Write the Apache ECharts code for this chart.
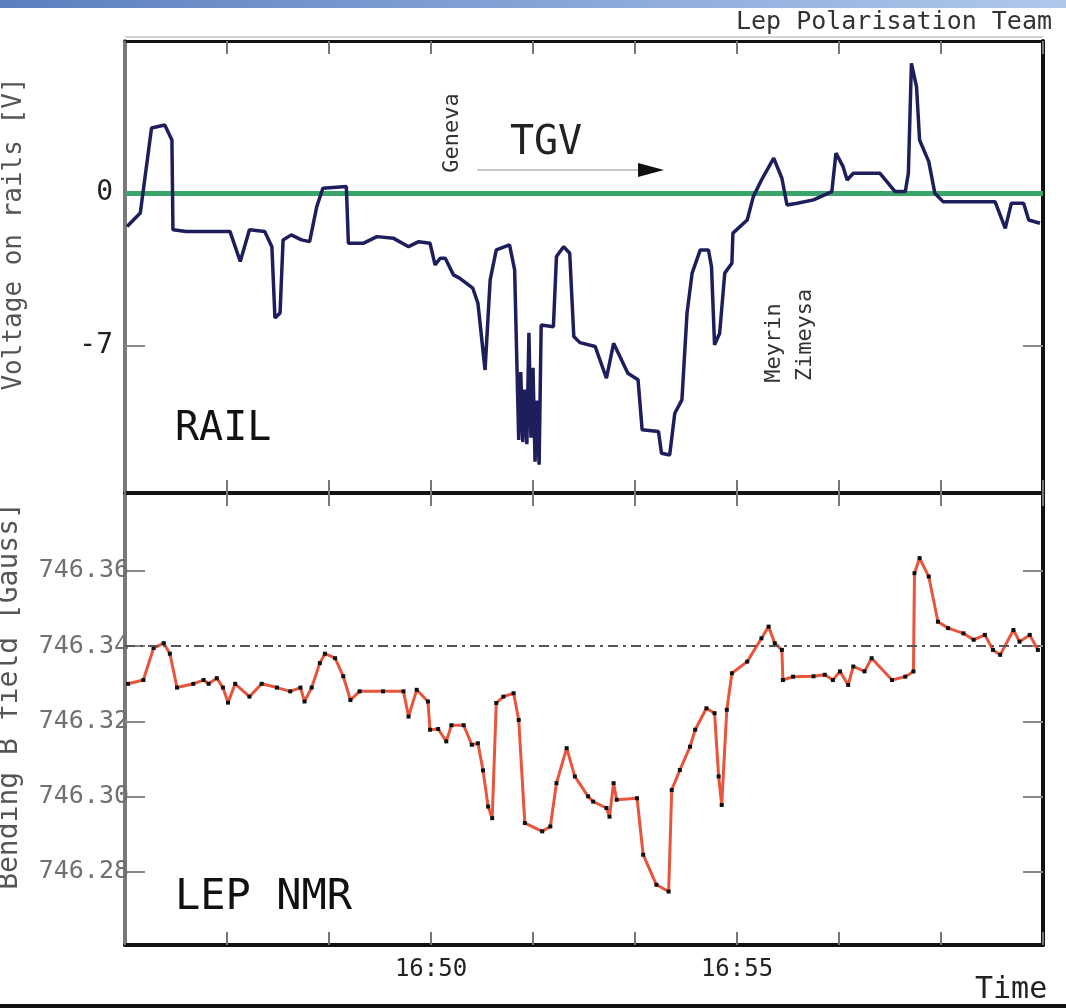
<!DOCTYPE html>
<html><head><meta charset="utf-8">
<script src="https://cdn.jsdelivr.net/npm/echarts@6/dist/echarts.min.js"></script>
<style>html,body{margin:0;padding:0;background:#fff}#c{width:1066px;height:1008px}</style>
</head><body><div id="c"></div>
<script>
// ---- DATA ----
const railTime = ['16:45:02','16:45:15','16:45:26','16:45:39','16:45:46','16:45:47','16:46:00','16:46:43','16:46:53','16:47:02',
'16:47:17','16:47:24','16:47:27','16:47:32','16:47:35','16:47:43','16:47:53','16:48:01','16:48:08','16:48:14',
'16:48:37','16:48:39','16:48:54','16:49:07','16:49:23','16:49:38','16:49:48','16:49:59','16:50:04','16:50:09',
'16:50:14','16:50:22','16:50:28','16:50:41','16:50:46','16:50:53','16:50:58','16:51:04','16:51:17','16:51:22',
'16:51:26','16:51:28','16:51:30','16:51:32','16:51:34','16:51:35','16:51:36','16:51:38','16:51:40','16:51:42',
'16:51:44','16:51:46','16:51:48','16:52:00','16:52:03','16:52:10','16:52:16','16:52:20','16:52:26','16:52:41',
'16:52:52','16:52:59','16:53:13','16:53:23','16:53:27','16:53:43','16:53:46','16:53:54','16:53:59','16:54:06',
'16:54:11','16:54:16','16:54:24','16:54:32','16:54:35','16:54:38','16:54:43','16:54:48','16:54:55','16:54:56',
'16:55:10','16:55:16','16:55:24','16:55:36','16:55:44','16:55:49','16:55:59','16:56:15','16:56:33','16:56:37',
'16:56:44','16:56:48','16:56:54','16:57:20','16:57:35','16:57:45','16:57:48','16:57:51','16:57:56','16:57:59',
'16:58:08','16:58:14','16:58:22','16:59:13','16:59:23','16:59:29','16:59:41','16:59:46','16:59:57'];
const railVolt = [-1.54,-0.92,2.97,3.11,2.42,-1.69,-1.77,-1.77,-3.14,-1.69,
-1.77,-2.46,-5.72,-5.49,-2.15,-1.92,-2.15,-2.23,-0.63,0.21,
0.29,-2.30,-2.30,-2.00,-2.07,-2.46,-2.23,-2.30,-3.29,-2.99,
-2.99,-3.75,-3.90,-4.36,-5.05,-8.10,-3.98,-2.61,-2.38,-3.52,
-11.30,-8.2,-11.4,-9.0,-11.5,-11.53,-6.40,-11.2,-8.0,-12.3,
-9.5,-12.44,-6.04,-6.12,-2.91,-2.46,-2.76,-6.57,-6.85,-7.03,
-8.48,-6.88,-8.25,-8.55,-10.84,-10.92,-11.91,-11.99,-10.08,-9.47,
-5.50,-3.67,-2.61,-2.61,-3.37,-6.95,-6.42,-3.67,-3.22,-1.84,
-1.24,-0.17,0.59,1.59,0.67,-0.55,-0.47,-0.32,0.06,1.82,
1.20,0.59,0.90,0.90,0.06,0.06,0.90,5.93,4.86,2.42,
1.43,-0.02,-0.40,-0.40,-1.62,-0.47,-0.47,-1.24,-1.39];

const nmrTime = ['16:45:03','16:45:18','16:45:28','16:45:38','16:45:44','16:45:51','16:46:07','16:46:17','16:46:22','16:46:30',
'16:46:36','16:46:41','16:46:48','16:47:02','16:47:14','16:47:29','16:47:42','16:47:52','16:47:56','16:48:03',
'16:48:11','16:48:16','16:48:26','16:48:34','16:48:41','16:48:50','16:49:13','16:49:33','16:49:38','16:49:46',
'16:49:57','16:49:59','16:50:07','16:50:15','16:50:20','16:50:32','16:50:40','16:50:46','16:50:51','16:50:56',
'16:51:00','16:51:04','16:51:11','16:51:21','16:51:26','16:51:32','16:51:49','16:51:57','16:52:03','16:52:13',
'16:52:21','16:52:34','16:52:39','16:52:52','16:52:55','16:52:59','16:53:02','16:53:22','16:53:28','16:53:41',
'16:53:53','16:53:56','16:54:04','16:54:14','16:54:19','16:54:30','16:54:38','16:54:42','16:54:45','16:54:50',
'16:54:55','16:55:10','16:55:24','16:55:31','16:55:37','16:55:44','16:55:45','16:55:55','16:56:15','16:56:26',
'16:56:34','16:56:41','16:56:49','16:56:54','16:57:05','16:57:12','16:57:32','16:57:45','16:57:53','16:57:54',
'16:57:59','16:58:08','16:58:17','16:58:27','16:58:42','16:58:52','16:59:03','16:59:11','16:59:18','16:59:31',
'16:59:37','16:59:47','16:59:55'];
const nmrField = [746.3300,746.3310,746.3395,746.3408,746.3380,746.3290,746.3300,746.3310,746.3300,746.3315,
746.3290,746.3250,746.3300,746.3266,746.3300,746.3290,746.3280,746.3290,746.3253,746.3290,
746.3355,746.3380,746.3368,746.3320,746.3257,746.3280,746.3280,746.3280,746.3213,746.3284,
746.3253,746.3178,746.3180,746.3147,746.3190,746.3190,746.3138,746.3142,746.3070,746.2974,
746.2943,746.3249,746.3266,746.3275,746.3204,746.2930,746.2908,746.2921,746.3036,746.3129,
746.3054,746.3001,746.2987,746.2970,746.2947,746.3036,746.2992,746.2996,746.2846,746.2766,
746.2748,746.3018,746.3071,746.3133,746.3178,746.3235,746.3222,746.3054,746.2978,746.3231,
746.3328,746.3359,746.3421,746.3452,746.3408,746.3390,746.3310,746.3319,746.3320,746.3324,
746.3310,746.3333,746.3297,746.3346,746.3333,746.3368,746.3310,746.3319,746.3333,746.3594,
746.3634,746.3585,746.3465,746.3448,746.3434,746.3417,746.3430,746.3390,746.3377,746.3443,
746.3412,746.3430,746.3390];

const railTicks = [0, -7];
const nmrTicks = [746.28, 746.30, 746.32, 746.34, 746.36];
const timeTickLabels = ['16:50', '16:55'];
const timeStart = '16:45:00', timeEnd = '17:00:00';
const nmrReference = 746.336;

// ---- helpers ----
function toSec(s){const p=s.split(':').map(Number);return p[0]*3600+p[1]*60+(p[2]||0);}
function fmtHM(v){const h=Math.floor(v/3600), m=Math.round((v-h*3600)/60);return h+':'+(m<10?'0':'')+m;}
const MONO = '"DejaVu Sans Mono", monospace';

const railData = railTime.map((t,i)=>[toSec(t), railVolt[i]]);
const nmrData = nmrTime.map((t,i)=>[toSec(t), nmrField[i]]);

const tMin = toSec(timeStart), tMax = toSec(timeEnd);

function xAx(grid, pos, labels){
  return {type:'value', gridIndex:grid, position:pos, min:tMin, max:tMax, interval:100,
    axisLine:{show:true, onZero:false, lineStyle:{color:'#111', width:pos==='top'?3:4}},
    axisTick:{show:true, inside:true, length:13, lineStyle:{color:'#777', width:2}},
    axisLabel: labels ? {show:true, customValues: timeTickLabels.map(l=>toSec(l+':00')), formatter:v=>fmtHM(v),
        fontFamily:MONO, fontSize:24, color:'#222', margin:13} : {show:false},
    splitLine:{show:false}};
}
function yAx(grid, pos, min, max, ticks, labelOpt){
  return {type:'value', gridIndex:grid, position:pos, min:min, max:max,
    axisLine:{show:true, onZero:false, lineStyle:{color: pos==='left' ? '#7a7a7a' : '#111', width:4}},
    axisTick:{show:true, inside:true, length:20, customValues:ticks, lineStyle:{color:'#888', width:2}},
    axisLabel: labelOpt ? Object.assign({show:true, customValues:ticks}, labelOpt) : {show:false},
    splitLine:{show:false}};
}

const chart = echarts.init(document.getElementById('c'), null, {renderer:'canvas'});
chart.setOption({
  animation:false,
  backgroundColor:'#fff',
  grid:[
    {left:125, right:23, top:41, height:452},
    {left:125, right:23, top:493, height:452}
  ],
  xAxis:[ xAx(0,'bottom',false), xAx(0,'top',false), xAx(1,'bottom',true), xAx(1,'top',false) ],
  yAxis:[
    yAx(0,'left',-13.73,6.95,railTicks,{fontFamily:MONO, fontSize:28, color:'#222', margin:12}),
    yAx(0,'right',-13.73,6.95,railTicks,null),
    yAx(1,'left',746.2606,746.3807,nmrTicks,{fontFamily:MONO, fontSize:25, color:'#707070', margin:-4, formatter:v=>v.toFixed(2)}),
    yAx(1,'right',746.2606,746.3807,nmrTicks,null)
  ],
  series:[
    {type:'line', xAxisIndex:0, yAxisIndex:0, data:railData, showSymbol:false, z:3,
      lineStyle:{color:'#1e1e5c', width:3.5},
      markLine:{silent:true, symbol:'none', label:{show:false}, z:2,
        lineStyle:{color:'#3aa56b', width:5, type:'solid'}, data:[{yAxis:0}]}},
    {type:'line', xAxisIndex:2, yAxisIndex:2, data:nmrData, showSymbol:true, symbol:'rect', symbolSize:4,
      itemStyle:{color:'#111'}, lineStyle:{color:'#e9553c', width:3},
      markLine:{silent:true, symbol:'none', label:{show:false},
        lineStyle:{color:'#555', width:2, type:[10,5,3,5]}, data:[{yAxis:nmrReference}]}}
  ],
  graphic:[
    {type:'rect', shape:{x:0,y:0,width:1066,height:8}, style:{fill:new echarts.graphic.LinearGradient(0,0,1,0,[{offset:0,color:'#5b80c0'},{offset:1,color:'#b0c8ec'}])}},
    {type:'text', x:1052, y:22, style:{text:'Lep Polarisation Team', font:'25px '+MONO, fill:'#333', align:'right', verticalAlign:'middle'}},
    {type:'line', shape:{x1:125,y1:37,x2:1043,y2:37}, style:{stroke:'#aaa', lineWidth:1}},
    {type:'text', x:14, y:234, rotation:Math.PI/2, style:{text:'Voltage on rails [V]', font:'26px '+MONO, fill:'#555', align:'center', verticalAlign:'middle'}},
    {type:'text', x:10, y:696, rotation:Math.PI/2, style:{text:'Bending B field [Gauss]', font:'28px '+MONO, fill:'#555', align:'center', verticalAlign:'middle'}},
    {type:'text', x:175, y:430, style:{text:'RAIL', font:'40px '+MONO, fill:'#111', align:'left', verticalAlign:'middle'}},
    {type:'text', x:175, y:898, style:{text:'LEP NMR', font:'42px '+MONO, fill:'#111', align:'left', verticalAlign:'middle'}},
    {type:'text', x:546, y:144, style:{text:'TGV', font:'40px '+MONO, fill:'#222', align:'center', verticalAlign:'middle'}},
    {type:'line', shape:{x1:477,y1:170,x2:640,y2:170}, style:{stroke:'#c8c8c8', lineWidth:2}},
    {type:'polygon', shape:{points:[[638,163],[664,170],[638,177]]}, style:{fill:'#111'}},
    {type:'text', x:452, y:133, rotation:Math.PI/2, style:{text:'Geneva', font:'22px '+MONO, fill:'#333', align:'center', verticalAlign:'middle'}},
    {type:'text', x:774, y:343, rotation:Math.PI/2, style:{text:'Meyrin', font:'22px '+MONO, fill:'#333', align:'center', verticalAlign:'middle'}},
    {type:'text', x:805, y:335, rotation:Math.PI/2, style:{text:'Zimeysa', font:'22px '+MONO, fill:'#333', align:'center', verticalAlign:'middle'}},
    {type:'text', x:975, y:990, style:{text:'Time', font:'30px '+MONO, fill:'#222', align:'left', verticalAlign:'middle'}},
    {type:'rect', shape:{x:0,y:1004,width:1066,height:4}, style:{fill:'#111'}}
  ]
});
</script></body></html>
